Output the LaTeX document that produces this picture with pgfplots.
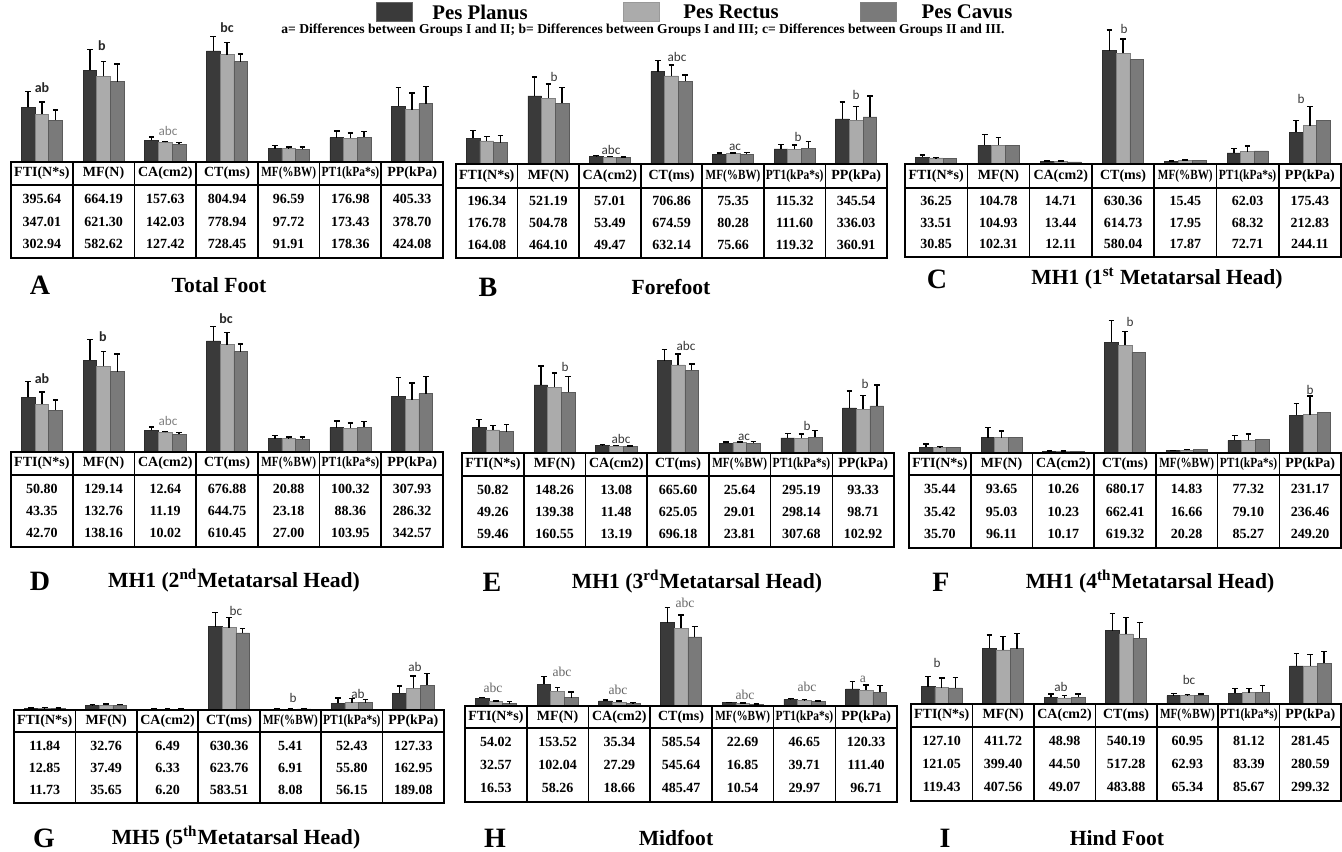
\documentclass[border=0pt]{standalone}
\usepackage{fontspec}
\setmainfont{Liberation Serif}
\newfontfamily\calib{Carlito}
\usepackage{graphicx}
\usepackage{pgfplots}
\pgfplotsset{compat=1.18}
\definecolor{cP}{HTML}{3A3A3A}
\definecolor{cR}{HTML}{ABABAB}
\definecolor{cC}{HTML}{7A7A7A}
\pgfplotsset{
 panel/.style={scale only axis, hide axis, clip=false, xmin=-0.5, xmax=6.5, ymin=0,
   height=65pt, anchor=south west, ybar=0pt, bar width=6.85pt},
 bars/.style={fill=#1, draw=#1!75!black, line width=0.3pt},
 err/.style={error bars/.cd, y dir=plus, y explicit,
   error bar style={line width=0.7pt, black},
   error mark options={rotate=90, line width=0.7pt, black, mark size=1.4pt}},
}
\tikzset{
 num/.style={font=\bfseries\fontsize{7}{8}\selectfont, inner sep=0pt},
 lt/.style={font=\calib\fontsize{6.6}{7}\selectfont, text=black!78, inner sep=0pt},
 ltb/.style={font=\calib\bfseries\fontsize{7}{8}\selectfont, text=black!85, inner sep=0pt},
 ltg/.style={font=\calib\fontsize{6.6}{7}\selectfont, text=black!50, inner sep=0pt},
 lth/.style={font=\fontsize{6.8}{7}\selectfont, text=black!60, inner sep=0pt},
 plab/.style={font=\bfseries\fontsize{14}{16}\selectfont, inner sep=0pt},
 ptit/.style={font=\bfseries\fontsize{10.8}{12}\selectfont, inner sep=0pt},
}
% L R T Hb B row1 row2 row3
\newcommand{\tbl}[8]{%
 \pgfmathsetmacro\cw{(#2-#1)/7}%
 \draw[line width=0.8pt] (#1,#4) -- (#2,#4);
 \foreach \k in {1,...,6} \draw[line width=0.8pt] ({#1+\k*\cw},#3) -- ({#1+\k*\cw},#5);
 \draw[line width=1pt] (#1,#3) rectangle (#2,#5);
 \foreach [count=\k] \h in {{FTI(N*s)},{MF(N)},{CA(cm2)},{CT(ms)},{\scalebox{0.8}[1]{MF(\%BW)}},{\scalebox{0.82}[1]{PT1(kPa*s)}},{PP(kPa)}}
   \node[num] at ({#1+(\k-0.5)*\cw},{(#3+#4)/2}) {\h};
 \foreach [count=\k] \v in {#6} \node[num] at ({#1+(\k-0.5)*\cw},{#4+0.19*(#5-#4)}) {\v};
 \foreach [count=\k] \v in {#7} \node[num] at ({#1+(\k-0.5)*\cw},{#4+0.50*(#5-#4)}) {\v};
 \foreach [count=\k] \v in {#8} \node[num] at ({#1+(\k-0.5)*\cw},{#4+0.81*(#5-#4)}) {\v};
}
\begin{document}
\begin{tikzpicture}[x=0.5pt,y=-0.5pt]
\path[use as bounding box] (0,0) rectangle (1342,851);
% ---------- legend ----------
\fill[cP, draw=black!60, line width=0.3pt] (376,2) rectangle (412,21);
\node[font=\bfseries\fontsize{10.4}{12}\selectfont, inner sep=0pt] at (480,12) {Pes Planus};
\fill[cR, draw=black!40, line width=0.3pt] (623,2) rectangle (659,21);
\node[font=\bfseries\fontsize{10.4}{12}\selectfont, inner sep=0pt] at (731,12) {Pes Rectus};
\fill[cC, draw=black!50, line width=0.3pt] (860,2) rectangle (896,21);
\node[font=\bfseries\fontsize{10.4}{12}\selectfont, inner sep=0pt] at (967,12) {Pes Cavus};
\node[font=\bfseries\fontsize{6.8}{8}\selectfont, inner sep=0pt] at (643,30) {a= Differences between Groups I and II; b= Differences between Groups I and III; c= Differences between Groups II and III.};

% ================= A =================
\begin{axis}[panel, at={(5.5pt,-81pt)}, width=216pt, ymax=942.7]
\addplot[bars=cP, err] coordinates {(0,395.64)+-(0,116) (1,664.19)+-(0,150) (2,157.63)+-(0,25) (3,804.94)+-(0,104) (4,96.59)+-(0,22) (5,176.98)+-(0,48) (6,405.33)+-(0,133)};
\addplot[bars=cR, err] coordinates {(0,347.01)+-(0,89) (1,621.30)+-(0,109) (2,142.03)+-(0,7) (3,778.94)+-(0,89) (4,97.72)+-(0,12) (5,173.43)+-(0,38) (6,378.70)+-(0,121)};
\addplot[bars=cC, err] coordinates {(0,302.94)+-(0,73) (1,582.62)+-(0,128) (2,127.42)+-(0,15) (3,728.45)+-(0,56) (4,91.91)+-(0,18) (5,178.36)+-(0,43) (6,424.08)+-(0,123)};
\end{axis}
\tbl{11}{443}{162}{185}{258}{395.64,664.19,157.63,804.94,96.59,176.98,405.33}{347.01,621.30,142.03,778.94,97.72,173.43,378.70}{302.94,582.62,127.42,728.45,91.91,178.36,424.08}
\node[ltb] at (42,88) {ab};
\node[ltb] at (102,46) {b};
\node[ltg] at (168,131) {abc};
\node[ltb] at (227,28) {bc};
\node[plab] at (40,285) {A};
\node[ptit] at (219,285) {Total Foot};

% ================= B =================
\begin{axis}[panel, at={(228pt,-82pt)}, width=215.5pt, ymax=995.4]
\addplot[bars=cP, err] coordinates {(0,196.34)+-(0,61) (1,521.19)+-(0,146) (2,57.01)+-(0,8) (3,706.86)+-(0,84) (4,75.35)+-(0,8) (5,115.32)+-(0,33) (6,345.54)+-(0,130)};
\addplot[bars=cR, err] coordinates {(0,176.78)+-(0,33) (1,504.78)+-(0,107) (2,53.49)+-(0,5) (3,674.59)+-(0,82) (4,80.28)+-(0,5) (5,111.60)+-(0,33) (6,336.03)+-(0,105)};
\addplot[bars=cC, err] coordinates {(0,164.08)+-(0,56) (1,464.10)+-(0,123) (2,49.47)+-(0,5) (3,632.14)+-(0,48) (4,75.66)+-(0,13) (5,119.32)+-(0,54) (6,360.91)+-(0,159)};
\end{axis}
\tbl{456}{887}{164}{188}{258}{196.34,521.19,57.01,706.86,75.35,115.32,345.54}{176.78,504.78,53.49,674.59,80.28,111.60,336.03}{164.08,464.10,49.47,632.14,75.66,119.32,360.91}
\node[lt] at (554,77) {b};
\node[lt] at (611,150) {abc};
\node[lt] at (677,57) {abc};
\node[lt] at (735,147) {ac};
\node[lt] at (798,137) {b};
\node[lt] at (856,95) {b};
\node[plab] at (488,287) {B};
\node[ptit] at (671,287) {Forefoot};

% ================= C =================
\begin{axis}[panel, at={(452.5pt,-82pt)}, width=218pt, ymax=723.0]
\addplot[bars=cP, err] coordinates {(0,36.25)+-(0,13) (1,104.78)+-(0,59) (2,14.71)+-(0,2) (3,630.36)+-(0,115) (4,15.45)+-(0,2) (5,62.03)+-(0,24) (6,175.43)+-(0,68)};
\addplot[bars=cR, err] coordinates {(0,33.51)+-(0,2) (1,104.93)+-(0,41) (2,13.44)+-(0,3) (3,614.73)+-(0,80) (4,17.95)+-(0,4) (5,68.32)+-(0,32) (6,212.83)+-(0,107)};
\addplot[bars=cC] coordinates {(0,30.85) (1,102.31) (2,12.11) (3,580.04) (4,17.87) (5,72.71) (6,244.11)};
\end{axis}
\tbl{905}{1341}{164}{188}{257}{36.25,104.78,14.71,630.36,15.45,62.03,175.43}{33.51,104.93,13.44,614.73,17.95,68.32,212.83}{30.85,102.31,12.11,580.04,17.87,72.71,244.11}
\node[lt] at (1124,29) {b};
\node[lt] at (1301,99) {b};
\node[plab] at (937,279) {C};
\node[ptit] at (1157,279) {MH1 (1\textsuperscript{st} Metatarsal Head)};

% ================= D =================
\begin{axis}[panel, at={(5.5pt,-226pt)}, width=216pt, ymax=942.7]
\addplot[bars=cP, err] coordinates {(0,395.64)+-(0,116) (1,664.19)+-(0,150) (2,157.63)+-(0,25) (3,804.94)+-(0,104) (4,96.59)+-(0,22) (5,176.98)+-(0,48) (6,405.33)+-(0,133)};
\addplot[bars=cR, err] coordinates {(0,347.01)+-(0,89) (1,621.30)+-(0,109) (2,142.03)+-(0,7) (3,778.94)+-(0,89) (4,97.72)+-(0,12) (5,173.43)+-(0,38) (6,378.70)+-(0,121)};
\addplot[bars=cC, err] coordinates {(0,302.94)+-(0,73) (1,582.62)+-(0,128) (2,127.42)+-(0,15) (3,728.45)+-(0,56) (4,91.91)+-(0,18) (5,178.36)+-(0,43) (6,424.08)+-(0,123)};
\end{axis}
\tbl{11}{443}{452}{475}{547}{50.80,129.14,12.64,676.88,20.88,100.32,307.93}{43.35,132.76,11.19,644.75,23.18,88.36,286.32}{42.70,138.16,10.02,610.45,27.00,103.95,342.57}
\node[ltb] at (42,379) {ab};
\node[ltb] at (103,337) {b};
\node[ltg] at (168,421) {abc};
\node[ltb] at (226,319) {bc};
\node[plab] at (40,581) {D};
\node[ptit] at (234,581) {MH1 (2\textsuperscript{nd}Metatarsal Head)};

% ================= E =================
\begin{axis}[panel, at={(231pt,-226.5pt)}, width=216pt, ymax=995.4]
\addplot[bars=cP, err] coordinates {(0,196.34)+-(0,61) (1,521.19)+-(0,146) (2,57.01)+-(0,8) (3,706.86)+-(0,84) (4,75.35)+-(0,8) (5,115.32)+-(0,33) (6,345.54)+-(0,130)};
\addplot[bars=cR, err] coordinates {(0,176.78)+-(0,33) (1,504.78)+-(0,107) (2,53.49)+-(0,5) (3,674.59)+-(0,82) (4,80.28)+-(0,5) (5,111.60)+-(0,33) (6,336.03)+-(0,105)};
\addplot[bars=cC, err] coordinates {(0,164.08)+-(0,56) (1,464.10)+-(0,123) (2,49.47)+-(0,5) (3,632.14)+-(0,48) (4,75.66)+-(0,13) (5,119.32)+-(0,54) (6,360.91)+-(0,159)};
\end{axis}
\tbl{462}{894}{453}{476}{547}{50.82,148.26,13.08,665.60,25.64,295.19,93.33}{49.26,139.38,11.48,625.05,29.01,298.14,98.71}{59.46,160.55,13.19,696.18,23.81,307.68,102.92}
\node[lt] at (565,367) {b};
\node[lt] at (621,439) {abc};
\node[lt] at (686,346) {abc};
\node[lt] at (744,437) {ac};
\node[lt] at (807,426) {b};
\node[lt] at (865,384) {b};
\node[plab] at (492,582) {E};
\node[ptit] at (697,582) {MH1 (3\textsuperscript{rd}Metatarsal Head)};

% ================= F =================
\begin{axis}[panel, at={(454.5pt,-226.5pt)}, width=216pt, ymax=799.0]
\addplot[bars=cP, err] coordinates {(0,35.44)+-(0,20) (1,93.65)+-(0,62) (2,10.26)+-(0,3) (3,680.17)+-(0,133) (4,14.83)+-(0,2) (5,77.32)+-(0,31) (6,231.17)+-(0,72)};
\addplot[bars=cR, err] coordinates {(0,35.42)+-(0,4) (1,95.03)+-(0,41) (2,10.23)+-(0,3) (3,662.41)+-(0,86) (4,16.66)+-(0,6) (5,79.10)+-(0,37) (6,236.46)+-(0,113)};
\addplot[bars=cC] coordinates {(0,35.70) (1,96.11) (2,10.17) (3,619.32) (4,20.28) (5,85.27) (6,249.20)};
\end{axis}
\tbl{909}{1341}{453}{475}{548}{35.44,93.65,10.26,680.17,14.83,77.32,231.17}{35.42,95.03,10.23,662.41,16.66,79.10,236.46}{35.70,96.11,10.17,619.32,20.28,85.27,249.20}
\node[lt] at (1130,322) {b};
\node[lt] at (1310,390) {b};
\node[plab] at (941,582) {F};
\node[ptit] at (1150,582) {MH1 (4\textsuperscript{th}Metatarsal Head)};

% ================= G =================
\begin{axis}[panel, at={(7pt,-355pt)}, width=215pt, ymax=983.4]
\addplot[bars=cP, err] coordinates {(0,11.84)+-(0,4) (1,32.76)+-(0,8) (2,6.49)+-(0,0) (3,630.36)+-(0,106) (4,5.41)+-(0,3) (5,52.43)+-(0,38) (6,127.33)+-(0,55)};
\addplot[bars=cR, err] coordinates {(0,12.85)+-(0,4) (1,37.49)+-(0,8) (2,6.33)+-(0,0) (3,623.76)+-(0,76) (4,6.91)+-(0,4) (5,55.80)+-(0,33) (6,162.95)+-(0,93)};
\addplot[bars=cC, err] coordinates {(0,11.73)+-(0,4) (1,35.65)+-(0,8) (2,6.20)+-(0,0) (3,583.51)+-(0,33) (4,8.08)+-(0,4) (5,56.15)+-(0,23) (6,189.08)+-(0,88)};
\end{axis}
\tbl{14}{444}{710}{732}{803}{11.84,32.76,6.49,630.36,5.41,52.43,127.33}{12.85,37.49,6.33,623.76,6.91,55.80,162.95}{11.73,35.65,6.20,583.51,8.08,56.15,189.08}
\node[lt] at (236,611) {bc};
\node[lt] at (293,698) {b};
\node[lt] at (358,694) {ab};
\node[lt] at (415,667) {ab};
\node[plab] at (44,838) {G};
\node[ptit] at (236,838) {MH5 (5\textsuperscript{th}Metatarsal Head)};

% ================= H =================
\begin{axis}[panel, at={(232.5pt,-353pt)}, width=216pt, ymax=913.6]
\addplot[bars=cP, err] coordinates {(0,54.02)+-(0,7) (1,153.52)+-(0,54) (2,35.34)+-(0,7) (3,585.54)+-(0,105) (4,22.69)+-(0,4) (5,46.65)+-(0,5) (6,120.33)+-(0,54)};
\addplot[bars=cR, err] coordinates {(0,32.57)+-(0,4) (1,102.04)+-(0,30) (2,27.29)+-(0,7) (3,545.64)+-(0,94) (4,16.85)+-(0,4) (5,39.71)+-(0,5) (6,111.40)+-(0,35)};
\addplot[bars=cC, err] coordinates {(0,16.53)+-(0,16) (1,58.26)+-(0,40) (2,18.66)+-(0,4) (3,485.47)+-(0,75) (4,10.54)+-(0,4) (5,29.97)+-(0,5) (6,96.71)+-(0,47)};
\end{axis}
\tbl{465}{897}{706}{728}{802}{54.02,153.52,35.34,585.54,22.69,46.65,120.33}{32.57,102.04,27.29,545.64,16.85,39.71,111.40}{16.53,58.26,18.66,485.47,10.54,29.97,96.71}
\node[lth] at (493,688) {abc};
\node[lth] at (562,672) {abc};
\node[lth] at (618,690) {abc};
\node[lth] at (685,603) {abc};
\node[lth] at (745,695) {abc};
\node[lth] at (807,687) {abc};
\node[lth] at (863,679) {a};
\node[plab] at (495,838) {H};
\node[ptit] at (676,838) {Midfoot};

% ================= I =================
\begin{axis}[panel, at={(455.5pt,-352pt)}, width=215pt, ymax=958.0]
\addplot[bars=cP, err] coordinates {(0,127.10)+-(0,74) (1,411.72)+-(0,98) (2,48.98)+-(0,24) (3,540.19)+-(0,128) (4,60.95)+-(0,17) (5,81.12)+-(0,32) (6,281.45)+-(0,91)};
\addplot[bars=cR, err] coordinates {(0,121.05)+-(0,71) (1,399.40)+-(0,98) (2,44.50)+-(0,20) (3,517.28)+-(0,118) (4,62.93)+-(0,7) (5,83.39)+-(0,32) (6,280.59)+-(0,86)};
\addplot[bars=cC, err] coordinates {(0,119.43)+-(0,74) (1,407.56)+-(0,111) (2,49.07)+-(0,24) (3,483.88)+-(0,118) (4,65.34)+-(0,7) (5,85.67)+-(0,49) (6,299.32)+-(0,86)};
\end{axis}
\tbl{911}{1341}{704}{727}{801}{127.10,411.72,48.98,540.19,60.95,81.12,281.45}{121.05,399.40,44.50,517.28,62.93,83.39,280.59}{119.43,407.56,49.07,483.88,65.34,85.67,299.32}
\node[lt] at (937,663) {b};
\node[lt] at (1061,687) {ab};
\node[lt] at (1189,680) {bc};
\node[plab] at (945,838) {I};
\node[ptit] at (1117,838) {Hind Foot};
\end{tikzpicture}
\end{document}
